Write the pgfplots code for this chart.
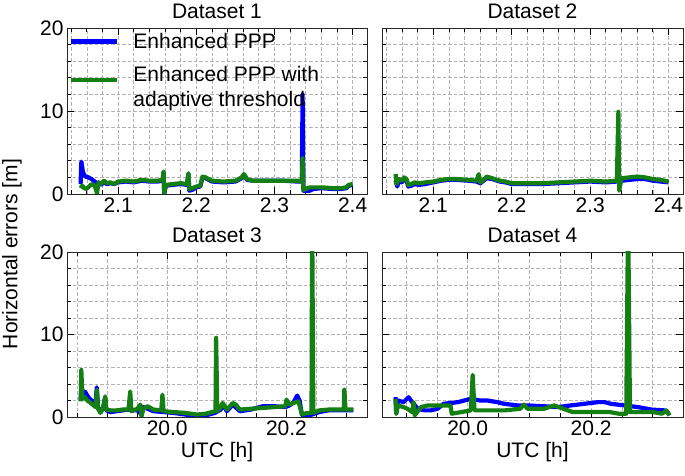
\documentclass[border=0pt]{standalone}
\usepackage{pgfplots}
\pgfplotsset{compat=1.18}
\usepackage{fontspec}
\setmainfont{Liberation Sans}
\definecolor{myblue}{RGB}{0,0,255}
\definecolor{mygreen}{RGB}{20,128,20}
\newcommand{\ff}{\fontsize{21}{25}\selectfont}
\pgfplotsset{
  panel/.style={
    scale only axis, height=166pt,
    ymin=0, ymax=20, ytick={0,10,20}, minor ytick={2,4,...,18},
    grid=both,
    major grid style={gray!60, dash pattern=on 3.5pt off 2pt, line width=0.7pt},
    minor grid style={gray!60, dash pattern=on 3.5pt off 2pt, line width=0.7pt},
    tick align=inside, major tick length=7pt, minor tick length=4pt,
    xtick pos=both, ytick pos=both,
    every tick/.style={black, line width=0.8pt},
    axis line style={black!85, line width=0.8pt},
    tick label style={font=\ff},
    label style={font=\ff},
    title style={font=\ff, at={(0.5,1)}, anchor=south, yshift=0pt},
    /pgf/number format/assume math mode=true,
  },
  toppanel/.style={panel, xmin=2.0346, xmax=2.4184, xtick={2.1,2.2,2.3,2.4},
    xticklabels={2.1,2.2,2.3,2.4}, minor xtick={2.04,2.06,...,2.41}},
  bl/.style={color=myblue, line width=4.2pt, line join=round, mark=none},
  gr/.style={color=mygreen, line width=4.2pt, line join=round, mark=none},
}
\begin{document}
\begin{tikzpicture}
\useasboundingbox (0pt,0pt) rectangle (685pt,476pt);
% Dataset 1
\begin{axis}[toppanel, width=300pt, at={(67pt,282pt)}, anchor=south west,
  title={Dataset 1},
  legend style={at={(0,1)}, anchor=north west, yshift=-2pt, draw=none, fill=none, font=\ff,
    row sep=10pt, column sep=12pt, inner xsep=2pt, inner ysep=1pt},
  legend cell align=left,
  legend image code/.code={\draw[#1] (0pt,0pt) -- (46pt,0pt);}]
\addplot[bl] coordinates {
(2.052,1.2) (2.053,3.9) (2.055,2.6) (2.058,2.1) (2.062,2.0) (2.066,1.8) (2.070,1.5)
(2.073,1.2) (2.075,1.4) (2.078,1.1) (2.082,1.4) (2.086,1.2) (2.090,1.3) (2.095,1.2)
(2.100,1.4) (2.110,1.5) (2.120,1.4) (2.130,1.6) (2.140,1.5) (2.150,1.5) (2.157,1.6)
(2.158,2.6) (2.159,0.0) (2.161,1.0) (2.170,1.1) (2.180,1.2) (2.188,1.1) (2.190,2.4)
(2.191,0.4) (2.195,0.5) (2.200,0.8) (2.205,0.9) (2.208,2.0) (2.212,1.9) (2.220,1.5)
(2.235,1.4) (2.250,1.5) (2.258,1.9) (2.261,2.3) (2.265,1.7) (2.272,1.6) (2.290,1.6)
(2.310,1.6) (2.330,1.5) (2.335,1.5) (2.336,12.0) (2.337,0.4) (2.345,0.4) (2.350,0.6)
(2.360,0.7) (2.375,0.6) (2.385,0.6) (2.392,0.7) (2.395,1.0) (2.400,1.1)};
\addlegendentry{Enhanced PPP}
\addplot[gr] coordinates {
(2.052,0.7) (2.054,1.0) (2.058,0.6) (2.062,0.8) (2.066,1.2) (2.070,1.0) (2.073,0.1)
(2.075,1.4) (2.078,1.2) (2.082,1.6) (2.086,1.3) (2.090,1.4) (2.095,1.2) (2.100,1.5)
(2.110,1.6) (2.120,1.5) (2.130,1.7) (2.140,1.6) (2.150,1.6) (2.157,1.7) (2.158,2.7)
(2.159,0.1) (2.161,1.1) (2.170,1.2) (2.180,1.3) (2.188,1.2) (2.190,2.5) (2.191,0.6)
(2.195,0.7) (2.200,0.9) (2.205,1.0) (2.208,2.1) (2.212,2.0) (2.220,1.6) (2.235,1.5)
(2.250,1.6) (2.258,2.0) (2.261,2.4) (2.265,1.8) (2.272,1.6) (2.290,1.6) (2.310,1.6)
(2.330,1.6) (2.335,1.5) (2.336,4.3) (2.337,0.5) (2.345,0.8) (2.360,0.8) (2.375,0.7)
(2.385,0.7) (2.392,0.8) (2.395,1.1) (2.400,1.2)};
\addlegendentry{\begin{tabular}{@{}l@{}}Enhanced PPP with\\adaptive threshold\end{tabular}}
\end{axis}
% Dataset 2
\begin{axis}[toppanel, width=301pt, at={(382pt,282pt)}, anchor=south west,
  title={Dataset 2}, yticklabels={}]
\addplot[bl] coordinates {
(2.052,1.6) (2.054,0.9) (2.056,1.5) (2.060,1.4) (2.063,1.8) (2.066,1.6) (2.068,0.9)
(2.072,1.0) (2.076,1.2) (2.082,1.1) (2.090,1.2) (2.100,1.4) (2.110,1.6) (2.119,1.7)
(2.130,1.7) (2.145,1.6) (2.155,1.5) (2.160,1.3) (2.168,1.9) (2.175,1.8) (2.185,1.5)
(2.192,1.4) (2.200,1.2) (2.220,1.2) (2.240,1.2) (2.260,1.3) (2.280,1.4) (2.300,1.5)
(2.320,1.4) (2.334,1.5) (2.340,1.6) (2.350,1.7) (2.360,1.8) (2.370,1.8) (2.380,1.6)
(2.390,1.5) (2.400,1.4)};
\addplot[gr] coordinates {
(2.052,2.4) (2.053,1.2) (2.056,1.8) (2.060,1.6) (2.063,2.0) (2.066,1.8) (2.068,1.1)
(2.072,1.2) (2.076,1.4) (2.082,1.3) (2.090,1.4) (2.100,1.5) (2.110,1.7) (2.119,1.8)
(2.130,1.8) (2.145,1.7) (2.155,1.6) (2.158,2.4) (2.160,1.4) (2.163,1.6) (2.168,2.1)
(2.175,1.9) (2.185,1.6) (2.192,1.5) (2.200,1.3) (2.220,1.3) (2.240,1.3) (2.260,1.4)
(2.280,1.5) (2.300,1.6) (2.320,1.5) (2.334,1.6) (2.336,9.9) (2.337,0.4) (2.340,1.9)
(2.350,2.0) (2.360,2.1) (2.370,2.0) (2.380,1.8) (2.390,1.7) (2.400,1.5)};
\end{axis}
% Dataset 3
\begin{axis}[panel, width=300pt, height=165pt, at={(67pt,59pt)}, anchor=south west,
  title={Dataset 3}, xlabel={UTC [h]},
  xmin=19.832, xmax=20.335, xtick={20.0,20.2}, xticklabels={20.0,20.2},
  minor xtick={19.85,19.9,...,20.33}]
\addplot[bl] coordinates {
(19.855,2.0) (19.856,4.0) (19.858,3.0) (19.862,3.1) (19.866,2.6) (19.870,2.2)
(19.875,1.9) (19.880,1.6) (19.882,3.6) (19.884,1.2) (19.888,0.6) (19.892,1.0)
(19.896,2.2) (19.898,0.8) (19.905,0.6) (19.915,0.7) (19.925,0.8) (19.935,0.9)
(19.940,0.8) (19.950,0.8) (19.957,0.3) (19.960,1.2) (19.967,1.0) (19.977,0.7)
(19.994,0.6) (20.010,0.5) (20.030,0.3) (20.050,0.1) (20.065,0.2) (20.080,0.5)
(20.090,0.9) (20.093,1.6) (20.100,0.7) (20.110,1.5) (20.122,0.7) (20.140,0.9)
(20.160,1.3) (20.180,1.3) (20.198,1.2) (20.205,1.4) (20.212,1.8) (20.218,2.6)
(20.222,2.0) (20.226,0.2) (20.235,0.2) (20.243,0.3) (20.255,0.6) (20.270,0.8)
(20.285,0.8) (20.299,0.8) (20.312,0.8)};
\addplot[gr] coordinates {
(19.855,1.9) (19.856,5.7) (19.858,2.2) (19.862,2.4) (19.866,2.0) (19.870,1.8)
(19.875,1.5) (19.880,1.2) (19.882,3.3) (19.884,1.0) (19.888,0.5) (19.892,1.0)
(19.896,2.5) (19.898,0.9) (19.905,0.8) (19.915,0.8) (19.925,0.9) (19.935,0.9)
(19.938,3.1) (19.940,0.7) (19.950,1.0) (19.955,1.5) (19.957,0.1) (19.960,1.0)
(19.967,1.3) (19.977,0.9) (19.990,0.8) (19.992,2.7) (19.994,0.7) (20.010,0.6)
(20.030,0.5) (20.050,0.3) (20.065,0.4) (20.075,0.6) (20.081,0.7) (20.082,9.6)
(20.084,0.7) (20.090,1.2) (20.093,1.7) (20.100,0.9) (20.110,1.7) (20.115,1.5)
(20.122,0.9) (20.140,1.0) (20.160,1.1) (20.180,1.2) (20.198,1.3) (20.200,2.1)
(20.205,1.5) (20.212,1.7) (20.220,1.9) (20.226,0.3) (20.235,0.5) (20.242,0.5)
(20.243,25) (20.245,0.5) (20.255,0.8) (20.270,0.9) (20.285,0.9) (20.296,0.9)
(20.297,3.3) (20.299,0.9) (20.312,0.9)};
\end{axis}
% Dataset 4
\begin{axis}[panel, width=301pt, height=165pt, at={(382pt,59pt)}, anchor=south west,
  title={Dataset 4}, xlabel={UTC [h]}, yticklabels={},
  xmin=19.861, xmax=20.349, xtick={20.0,20.2}, xticklabels={20.0,20.2},
  minor xtick={19.9,19.95,...,20.34}]
\addplot[bl] coordinates {
(19.883,2.4) (19.884,0.4) (19.887,2.0) (19.896,1.8) (19.904,2.4) (19.910,1.8)
(19.919,1.0) (19.930,0.8) (19.940,0.8) (19.951,1.0) (19.961,1.6) (19.984,1.8)
(20.005,2.2) (20.020,2.0) (20.032,2.0) (20.048,1.8) (20.059,1.6) (20.081,1.4)
(20.097,1.4) (20.124,1.3) (20.146,1.2) (20.167,1.4) (20.189,1.6) (20.211,1.8)
(20.222,1.8) (20.232,1.6) (20.254,1.4) (20.276,1.2) (20.298,0.9) (20.319,0.8)
(20.324,0.6) (20.327,0.2)};
\addplot[gr] coordinates {
(19.883,2.2) (19.884,0.4) (19.887,1.4) (19.896,1.2) (19.902,1.0) (19.910,0.6)
(19.912,1.8) (19.914,0.2) (19.924,1.2) (19.935,1.4) (19.950,1.4) (19.972,1.4)
(19.974,0.4) (19.990,0.6) (20.005,0.8) (20.008,5.1) (20.011,0.8) (20.030,0.8)
(20.060,0.8) (20.085,1.0) (20.091,1.5) (20.097,1.0) (20.124,1.0) (20.140,1.4)
(20.155,1.0) (20.170,0.6) (20.200,0.6) (20.230,0.6) (20.245,0.4) (20.257,0.4)
(20.260,25) (20.263,0.6) (20.280,0.6) (20.300,0.6) (20.315,0.4) (20.322,0.8)
(20.327,0.2)};
\end{axis}
\node[rotate=90, font=\ff] at (12pt,222pt) {Horizontal errors [m]};
\end{tikzpicture}
\end{document}
